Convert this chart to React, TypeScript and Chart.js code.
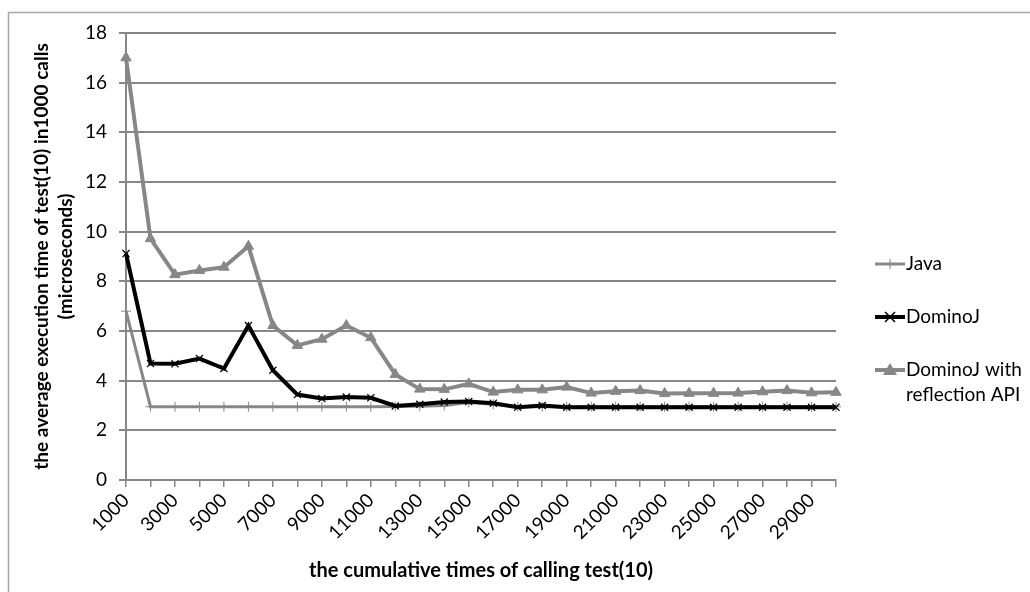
import React, { useEffect, useRef } from "react";
import { Chart, registerables } from "chart.js";

Chart.register(...registerables);

const categories = [
  "1000", "2000", "3000", "4000", "5000", "6000", "7000", "8000", "9000", "10000",
  "11000", "12000", "13000", "14000", "15000", "16000", "17000", "18000", "19000", "20000",
  "21000", "22000", "23000", "24000", "25000", "26000", "27000", "28000", "29000", "30000",
];

const javaValues = [
  6.8, 2.95, 2.95, 2.95, 2.95, 2.95, 2.95, 2.95, 2.95, 2.95,
  2.95, 2.96, 2.97, 3.0, 3.12, 3.05, 2.95, 2.95, 2.95, 2.95,
  2.95, 2.95, 2.95, 2.95, 2.95, 2.95, 2.95, 2.95, 2.95, 2.95,
];

const dominoJValues = [
  9.12, 4.69, 4.68, 4.89, 4.49, 6.22, 4.42, 3.44, 3.28, 3.34,
  3.31, 2.98, 3.05, 3.14, 3.16, 3.09, 2.93, 3.0, 2.93, 2.93,
  2.93, 2.93, 2.93, 2.93, 2.93, 2.93, 2.93, 2.93, 2.93, 2.93,
];

const reflectionValues = [
  17.0, 9.72, 8.27, 8.44, 8.57, 9.41, 6.22, 5.42, 5.67, 6.22,
  5.73, 4.25, 3.66, 3.65, 3.87, 3.54, 3.63, 3.63, 3.74, 3.5,
  3.57, 3.6, 3.48, 3.49, 3.49, 3.5, 3.55, 3.6, 3.51, 3.53,
];

const yTitleLines = ["the average execution time of test(10) in1000 calls", "(microseconds)"];
const xTitle = "the cumulative times of calling test(10)";
const legendLabels = [["Java"], ["DominoJ"], ["DominoJ with", "reflection API"]];

const GRAY = "#878787";
const FONT = "Lato";

const decorPlugin = {
  id: "decor",
  afterDraw(chart: any) {
    const ctx = chart.ctx as CanvasRenderingContext2D;
    const area = chart.chartArea;
    ctx.save();
    // outer border
    ctx.strokeStyle = "#a6a6a6";
    ctx.lineWidth = 1.5;
    ctx.strokeRect(8.5, 12.5, 1200, 800);

    // y title
    ctx.fillStyle = "#000";
    ctx.font = `bold 19px ${FONT}`;
    ctx.textAlign = "center";
    ctx.textBaseline = "middle";
    const cy = (area.top + area.bottom) / 2;
    ctx.save();
    ctx.translate(42, cy);
    ctx.rotate(-Math.PI / 2);
    ctx.fillText(yTitleLines[0], 0, 0);
    ctx.restore();
    ctx.save();
    ctx.translate(66, cy);
    ctx.rotate(-Math.PI / 2);
    ctx.fillText(yTitleLines[1], 0, 0);
    ctx.restore();

    // x title
    ctx.font = `bold 20px ${FONT}`;
    ctx.fillText(xTitle, (area.left + area.right) / 2, 571);

    // legend
    const items = [
      { y: 264, color: GRAY, width: 3, marker: "plus" },
      { y: 317, color: "#000", width: 4, marker: "x" },
      { y: 370, color: GRAY, width: 4, marker: "tri" },
    ];
    ctx.font = `19px ${FONT}`;
    ctx.textAlign = "left";
    items.forEach((it, i) => {
      const x0 = 875;
      const x1 = 905;
      const mx = (x0 + x1) / 2;
      ctx.strokeStyle = it.color;
      ctx.lineWidth = it.width;
      ctx.beginPath();
      ctx.moveTo(x0, it.y);
      ctx.lineTo(x1, it.y);
      ctx.stroke();
      ctx.lineWidth = 1;
      if (it.marker === "plus") {
        ctx.beginPath();
        ctx.moveTo(mx, it.y - 5);
        ctx.lineTo(mx, it.y + 5);
        ctx.stroke();
      } else if (it.marker === "x") {
        ctx.lineWidth = 1.5;
        ctx.beginPath();
        ctx.moveTo(mx - 5, it.y - 5);
        ctx.lineTo(mx + 5, it.y + 5);
        ctx.moveTo(mx + 5, it.y - 5);
        ctx.lineTo(mx - 5, it.y + 5);
        ctx.stroke();
      } else {
        ctx.fillStyle = it.color;
        ctx.beginPath();
        ctx.moveTo(mx, it.y - 7);
        ctx.lineTo(mx + 7, it.y + 5);
        ctx.lineTo(mx - 7, it.y + 5);
        ctx.closePath();
        ctx.fill();
      }
      ctx.fillStyle = "#000";
      ctx.textBaseline = "middle";
      legendLabels[i].forEach((line, k) => {
        ctx.fillText(line, 906, it.y + k * 25);
      });
    });
    ctx.restore();
  },
};

export default function App() {
  const ref = useRef<HTMLCanvasElement | null>(null);

  useEffect(() => {
    if (!ref.current) return;
    Chart.defaults.font.family = FONT;
    const chart = new Chart(ref.current, {
      type: "line",
      data: {
        labels: categories,
        datasets: [
          {
            label: "Java",
            data: javaValues,
            borderColor: GRAY,
            backgroundColor: GRAY,
            borderWidth: 3,
            pointStyle: "cross",
            pointRadius: 5,
            pointBorderWidth: 1,
            pointBorderColor: GRAY,
            tension: 0,
            order: 3,
          },
          {
            label: "DominoJ",
            data: dominoJValues,
            borderColor: "#000",
            backgroundColor: "#000",
            borderWidth: 4,
            pointStyle: "crossRot",
            pointRadius: 5,
            pointBorderWidth: 1.2,
            pointBorderColor: "#000",
            tension: 0,
            order: 2,
          },
          {
            label: "DominoJ with reflection API",
            data: reflectionValues,
            borderColor: GRAY,
            backgroundColor: GRAY,
            borderWidth: 4,
            pointStyle: "triangle",
            pointRadius: 6,
            pointBorderWidth: 1,
            pointBorderColor: GRAY,
            tension: 0,
            order: 1,
          },
        ],
      },
      options: {
        animation: false,
        responsive: false,
        layout: { padding: { top: 33, right: 194, left: 0, bottom: 0 } },
        plugins: {
          legend: { display: false },
          tooltip: { enabled: false },
        },
        scales: {
          x: {
            offset: false,
            afterFit: (s: any) => {
              s.height = 112;
            },
            grid: {
              display: true,
              drawOnChartArea: false,
              drawTicks: true,
              tickLength: 7,
              color: GRAY,
              lineWidth: 1.5,
            },
            border: { color: GRAY, width: 2 },
            ticks: {
              autoSkip: false,
              maxRotation: 45,
              minRotation: 45,
              padding: 2,
              color: "#000",
              font: { size: 19, family: FONT },
              callback: (_v: any, i: number) => (i % 2 === 0 ? categories[i] : ""),
            },
          },
          y: {
            min: 0,
            max: 18,
            afterFit: (s: any) => {
              s.width = 126;
            },
            grid: {
              color: GRAY,
              lineWidth: 2,
              tickLength: 7,
            },
            border: { color: GRAY, width: 2 },
            ticks: {
              stepSize: 2,
              padding: 12,
              color: "#000",
              font: { size: 19, family: FONT },
            },
          },
        },
      },
      plugins: [decorPlugin],
    });
    return () => chart.destroy();
  }, []);

  return (
    <div style={{ position: "absolute", left: 0, top: 0, width: 1030, height: 592, background: "#fff" }}>
      <canvas ref={ref} width={1030} height={592} style={{ width: 1030, height: 592 }} />
    </div>
  );
}
